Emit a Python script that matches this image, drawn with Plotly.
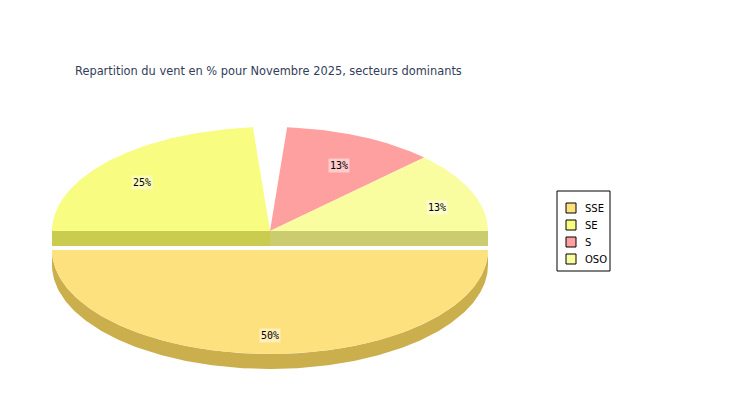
import numpy as np
import plotly.graph_objects as go

# ---- data ----
labels = ["SSE", "SE", "S", "OSO"]
values = [50, 25, 12.5, 12.5]
pct_labels = ["50%", "25%", "13%", "13%"]
title_text = "Repartition du vent en % pour Novembre 2025, secteurs dominants"

# ---- styles ----
top_colors = ["#FEE17F", "#F8FC80", "#FFA0A0", "#FAFCA0"]
side_colors = ["#CCAF4D", "#CACC50", "#CC8080", "#CBCB70"]
explode = [19, 0, 0, 0]          # px, along slice middle
CX, CY, RX, RY, DEPTH = 270, 231, 218, 104, 15
SEAM_GAP = 4.5                   # deg trimmed on each side of 90° seam
LBL_FX, LBL_FY, LBL_DY = 0.83, 0.755, 6.6
OFF = 8                          # page body margin compensation (px)
W, H = 750, 400

total = float(sum(values))
# clockwise from 0 degrees
spans = []
start = 0.0
for v in values:
    end = start - 360.0 * v / total
    spans.append((end, start))
    start = end


def norm(a):
    return a % 360.0


def pt(theta_deg, ox, oy, dy=0.0, r=1.0):
    t = np.radians(theta_deg)
    return ox + r * RX * np.cos(t), oy - r * RY * np.sin(t) + dy


fig = go.Figure()
tops, sides = [], []
for i, (a0, a1) in enumerate(spans):
    a0n = norm(a0)
    a1n = a0n + (a1 - a0)
    lbl_mid = (a0n + a1n) / 2.0
    # trim at the 90 degree seam
    if abs(norm(a1n) - 90) < 1e-6:
        a1n -= SEAM_GAP
    if abs(norm(a0n) - 90) < 1e-6:
        a0n += SEAM_GAP
    mid = (a0n + a1n) / 2.0
    ox = CX + explode[i] * np.cos(np.radians(lbl_mid))
    oy = CY - explode[i] * np.sin(np.radians(lbl_mid))
    th = np.linspace(a0n, a1n, 240)
    xs, ys = pt(th, ox, oy)
    top_x = np.concatenate([[ox], xs, [ox]])
    top_y = np.concatenate([[oy], ys, [oy]])
    tops.append((i, top_x, top_y, ox, oy, lbl_mid))

    # outer front rim (sin < 0)
    front = th[np.sin(np.radians(th)) <= 1e-9]
    if len(front) > 1:
        fx, fy = pt(front, ox, oy)
        sx = np.concatenate([fx, fx[::-1]])
        sy = np.concatenate([fy, (fy + DEPTH)[::-1]])
        sides.append((i, sx, sy, 1))
    # horizontal cut faces of upper slices
    for e in (a0n, a1n):
        en = norm(e)
        if (abs(en) < 1e-6 or abs(en - 360) < 1e-6 or abs(en - 180) < 1e-6) and np.sin(np.radians(mid)) > 0:
            ex, ey = pt(en, ox, oy)
            sides.append((i, [ox, ex, ex, ox, ox], [oy, ey, ey + DEPTH, oy + DEPTH, oy], 0))


def add_poly(x, y, color):
    fig.add_trace(go.Scatter(x=x, y=y, mode="lines", fill="toself", fillcolor=color,
                             line=dict(width=0, color=color), hoverinfo="skip",
                             showlegend=False))


upper = [t for t in tops if np.sin(np.radians(t[5])) > 0]
lower = [t for t in tops if np.sin(np.radians(t[5])) <= 0]
for (i, sx, sy, k) in sides:
    if k == 0:
        add_poly(sx, sy, side_colors[i])
for (i, x, y, ox, oy, mid) in upper:
    add_poly(x, y, top_colors[i])
for (i, sx, sy, k) in sides:
    if k == 1:
        add_poly(sx, sy, side_colors[i])
for (i, x, y, ox, oy, mid) in lower:
    add_poly(x, y, top_colors[i])

# slice labels
for (i, x, y, ox, oy, mid) in tops:
    lx = ox + LBL_FX * RX * np.cos(np.radians(mid))
    ly = oy - LBL_FY * RY * np.sin(np.radians(mid)) + LBL_DY
    fig.add_annotation(x=lx, y=ly, text=pct_labels[i], showarrow=False,
                       font=dict(family="DejaVu Sans Mono", size=10, color="#000000"),
                       bgcolor="rgba(255,255,255,0.45)", borderpad=1)

# legend box (drawn in pixel space)
LG_X0, LG_Y0, LG_X1, LG_Y1 = 557, 191, 610, 271
LG_ROW0, LG_STEP = 208, 17
fig.add_shape(type="rect", x0=LG_X0, y0=LG_Y0, x1=LG_X1, y1=LG_Y1,
              line=dict(color="#000000", width=1), fillcolor="#FFFFFF", layer="above")
for i, lab in enumerate(labels):
    yc = LG_ROW0 + i * LG_STEP
    fig.add_shape(type="rect", x0=566, x1=576, y0=yc - 5, y1=yc + 5,
                  line=dict(color="#000000", width=1), fillcolor=top_colors[i], layer="above")
    fig.add_annotation(x=583, y=yc, text=lab, showarrow=False, xanchor="left", yanchor="middle",
                       font=dict(family="DejaVu Sans", size=10, color="#000000"))

fig.update_layout(
    width=W, height=H, autosize=False,
    margin=dict(l=0, r=0, t=0, b=0),
    paper_bgcolor="#FFFFFF", plot_bgcolor="#FFFFFF",
    xaxis=dict(range=[OFF, W + OFF], visible=False, fixedrange=True),
    yaxis=dict(range=[H + OFF, OFF], visible=False, fixedrange=True),
    showlegend=False,
    title=dict(text=title_text, x=(75 - OFF) / W, xanchor="left",
               y=1 - (71 - OFF) / H, yanchor="middle",
               font=dict(family="DejaVu Sans", size=11.4, color="#333D5B")),
    hovermode=False,
)

fig.write_html("out.html")
